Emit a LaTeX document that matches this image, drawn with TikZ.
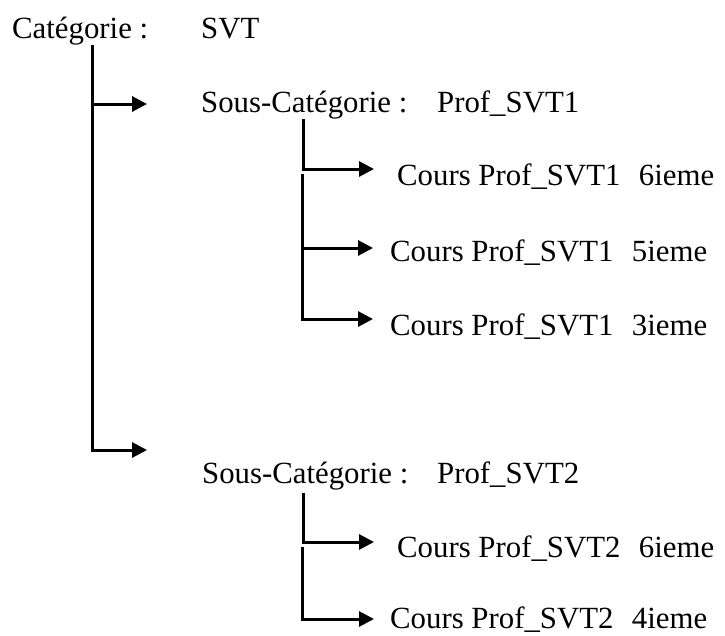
\documentclass[tikz,border=0pt]{standalone}
\usepackage{fontspec}
\setmainfont{Liberation Serif}
\usetikzlibrary{arrows.meta}
\begin{document}
\begin{tikzpicture}[x=1pt,y=1pt,yscale=-1,xscale=1,
  txt/.style={anchor=base west,inner sep=0pt,font=\fontsize{30.8}{36}\selectfont},
  branch/.style={line width=3pt,-{Triangle[length=15pt,width=15pt]}}]
\useasboundingbox (0,0) rectangle (725,635);

% Text Node
\node[txt] (cat) at (12,38) {Catégorie :};
% Text Node
\node[txt] (svt) at (201,38) {SVT};
% Text Node
\node[txt] (souscatA) at (201,112) {Sous-Catégorie :};
% Text Node
\node[txt] (profA) at (437,112) {Prof\_SVT1};
% Text Node
\node[txt] (coursA6) at (397,185) {Cours Prof\_SVT1\hspace{0.6em}6ieme};
% Text Node
\node[txt] (coursA5) at (390,261) {Cours Prof\_SVT1\hspace{0.6em}5ieme};
% Text Node
\node[txt] (coursA3) at (390,335) {Cours Prof\_SVT1\hspace{0.6em}3ieme};
% Text Node
\node[txt] (souscatB) at (202,483) {Sous-Catégorie :};
% Text Node
\node[txt] (profB) at (437,483) {Prof\_SVT2};
% Text Node
\node[txt] (coursB6) at (397,557) {Cours Prof\_SVT2\hspace{0.6em}6ieme};
% Text Node
\node[txt] (coursB4) at (390,628) {Cours Prof\_SVT2\hspace{0.6em}4ieme};

% Branch points
\coordinate (catroot) at (92,45);
\coordinate (catmid) at (92,104);
\coordinate (tipA) at (147,104);
\coordinate (tipB) at (147,450);
\coordinate (rootA) at (303,119);
\coordinate (tipA6) at (374,169);
\coordinate (rootA2) at (302,174);
\coordinate (midA5) at (302,248);
\coordinate (tipA5) at (373,248);
\coordinate (tipA3) at (373,319);
\coordinate (rootB) at (303,493);
\coordinate (tipB6) at (374,542);
\coordinate (rootB2) at (302,547);
\coordinate (tipB4) at (374,619);

%Straight Lines
\draw[branch] (catroot) |- (tipB);
\draw[branch] (catmid) -- (tipA);
%Straight Lines
\draw[branch] (rootA) |- (tipA6);
\draw[branch] (rootA2) |- (tipA3);
\draw[branch] (midA5) -- (tipA5);
%Straight Lines
\draw[branch] (rootB) |- (tipB6);
\draw[branch] (rootB2) |- (tipB4);

\end{tikzpicture}
\end{document}
